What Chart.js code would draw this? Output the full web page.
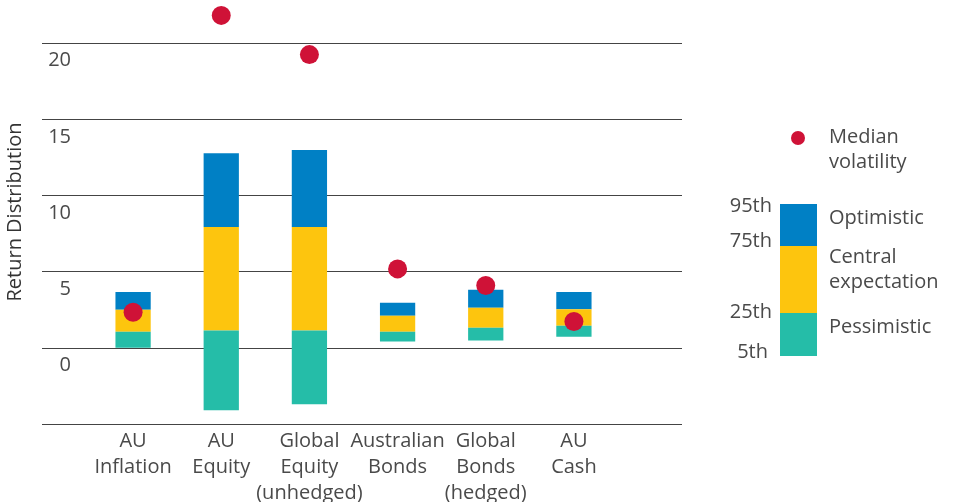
<!DOCTYPE html>
<html>
<head>
<meta charset="utf-8">
<script src="https://cdn.jsdelivr.net/npm/chart.js@4"></script>
<style>
  body { margin: 0; background: #fff; font-family: "Open Sans", sans-serif; color: #4a4a4a; }
  #wrap { position: relative; width: 956px; height: 502px; }
  .lg { position: absolute; font-size: 20px; line-height: 25px; white-space: nowrap; }
  .pc { position: absolute; font-size: 20px; line-height: 25px; text-align: right; }
  .sw { position: absolute; left: 780px; width: 37px; }
</style>
</head>
<body>
<div id="wrap">
  <canvas id="riskChart"></canvas>

  <!-- legend on the right -->
  <div style="position:absolute;left:791px;top:131px;width:14px;height:14px;border-radius:50%;background:#cf1237;"></div>
  <div class="lg" style="left:829px;top:123px;">Median<br>volatility</div>
  <div class="sw" style="top:204px;height:42px;background:#0080c5;"></div>
  <div class="sw" style="top:246px;height:67px;background:#fdc50e;"></div>
  <div class="sw" style="top:313px;height:43px;background:#25bda8;"></div>
  <div class="lg" style="left:829px;top:204px;">Optimistic</div>
  <div class="lg" style="left:829px;top:243px;">Central<br>expectation</div>
  <div class="lg" style="left:829px;top:313px;">Pessimistic</div>
  <div class="pc" style="right:184px;top:192px;">95th</div>
  <div class="pc" style="right:184px;top:227px;">75th</div>
  <div class="pc" style="right:184px;top:298px;">25th</div>
  <div class="pc" style="right:188px;top:338px;">5th</div>
</div>

<script>
// asset classes (multi-line labels)
const assetLabels = [
  ['AU', 'Inflation'],
  ['AU', 'Equity'],
  ['Global', 'Equity', '(unhedged)'],
  ['Australian', 'Bonds'],
  ['Global', 'Bonds', '(hedged)'],
  ['AU', 'Cash']
];

// return percentiles
const p5  = [0.0, -4.10, -3.71, 0.41, 0.48, 0.72];
const p25 = [1.05, 1.13, 1.13, 1.05, 1.31, 1.44];
const p75 = [2.49, 7.92, 7.92, 2.09, 2.62, 2.53];
const p95 = [3.66, 12.76, 12.96, 2.95, 3.80, 3.66];
const medianVolatility = [2.33, 21.79, 19.22, 5.17, 4.08, 1.72];

const yTicks = [-5, 0, 5, 10, 15, 20];

// floating bar segments between two percentile arrays
function band(lo, hi) {
  return lo.map((v, i) => [v, hi[i]]);
}

// horizontal rules drawn wider than the plot area, like the original
const ruleLines = {
  id: 'ruleLines',
  beforeDatasetsDraw(chart) {
    const ctx = chart.ctx;
    const y = chart.scales.y;
    const area = chart.chartArea;
    ctx.save();
    ctx.strokeStyle = '#444';
    ctx.lineWidth = 1;
    yTicks.forEach(v => {
      const py = Math.round(y.getPixelForValue(v)) + 0.5;
      ctx.beginPath();
      ctx.moveTo(area.left - 47, py);
      ctx.lineTo(area.right + 64, py);
      ctx.stroke();
    });
    ctx.restore();
  }
};

const ctx = document.getElementById('riskChart').getContext('2d');

new Chart(ctx, {
  type: 'bar',
  data: {
    labels: assetLabels,
    datasets: [
      {
        type: 'line',
        label: 'Median volatility',
        data: medianVolatility,
        showLine: false,
        pointRadius: 9.5,
        pointHoverRadius: 9.5,
        pointBorderWidth: 0,
        pointBackgroundColor: '#cf1237',
        borderColor: '#cf1237',
        clip: false,
        order: -1
      },
      {
        label: 'Pessimistic',
        data: band(p5, p25),
        backgroundColor: '#25bda8'
      },
      {
        label: 'Central expectation',
        data: band(p25, p75),
        backgroundColor: '#fdc50e'
      },
      {
        label: 'Optimistic',
        data: band(p75, p95),
        backgroundColor: '#0080c5'
      }
    ]
  },
  options: {
    responsive: true,
    maintainAspectRatio: false,
    animation: false,
    layout: { autoPadding: false, padding: { left: 0, right: 338, top: 0, bottom: 0 } },
    datasets: {
      bar: { grouped: false, barPercentage: 0.4, categoryPercentage: 1.0, borderSkipped: false }
    },
    plugins: {
      legend: { display: false },
      tooltip: { enabled: false }
    },
    scales: {
      x: {
        grid: { display: false, drawTicks: false },
        border: { display: false },
        ticks: {
          autoSkip: false,
          maxRotation: 0,
          padding: 4,
          color: '#4a4a4a',
          font: { family: 'Open Sans', size: 20, lineHeight: 1.3 }
        },
        afterFit(scale) { scale.height = 78; }
      },
      y: {
        min: -5,
        max: 22.8,
        grid: { display: false, drawTicks: false },
        border: { display: false },
        afterBuildTicks(scale) {
          scale.ticks = yTicks.map(v => ({ value: v }));
        },
        ticks: {
          padding: 18,
          labelOffset: 18,
          color: '#4a4a4a',
          font: { family: 'Open Sans', size: 20 },
          callback: v => (v < 0 ? '' : v)
        },
        title: {
          display: true,
          text: 'Return Distribution',
          color: '#333',
          padding: { top: 3, bottom: 0 },
          font: { family: 'Open Sans', size: 20 }
        },
        afterFit(scale) {
          scale.width = 89;
          scale.paddingTop = 0;
          scale.paddingBottom = 0;
        }
      }
    }
  },
  plugins: [ruleLines]
});
</script>
</body>
</html>
